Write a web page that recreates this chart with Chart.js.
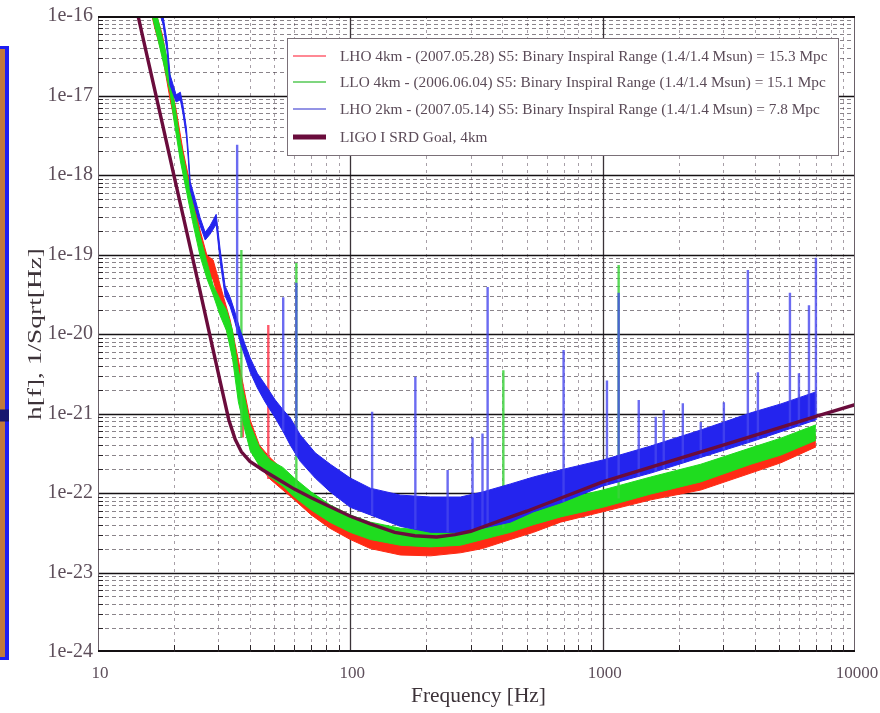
<!DOCTYPE html>
<html>
<head>
<meta charset="utf-8">
<script src="https://cdn.jsdelivr.net/npm/chart.js@4.4.1/dist/chart.umd.min.js"></script>
<style>
  html, body { margin: 0; padding: 0; background: #ffffff; }
  #wrap { width: 880px; height: 713px; position: relative; }
</style>
</head>
<body>
<div id="wrap"><canvas id="c" width="880" height="713"></canvas></div>
<script>
// ---- Strain sensitivity data: frequency (Hz) vs amplitude spectral density (1/sqrt(Hz)) ----

// LIGO I SRD design goal, 4 km
const srdFreq = [13, 15, 18, 20, 22, 25, 28, 31, 33, 35, 37, 40, 45, 50, 60, 70, 80, 100, 120, 150,
  180, 220, 260, 300, 400, 500, 700, 1000, 2000, 3000, 5000, 7000, 10000];
const srdAmp = [4.3e-16, 5.7e-17, 4.4e-18, 9.8e-19, 2.6e-19, 4.3e-20, 8.5e-21, 2.0e-21, 8.3e-22, 4.7e-22,
  3.3e-22, 2.5e-22, 1.95e-22, 1.59e-22, 1.12e-22, 8.7e-23, 7.1e-23, 5.1e-23, 4.1e-23, 3.2e-23,
  2.9e-23, 2.8e-23, 3.0e-23, 3.3e-23, 4.6e-23, 5.9e-23, 8.9e-23, 1.38e-22, 2.7e-22, 4.0e-22,
  6.6e-22, 9.2e-22, 1.29e-21];

// LHO 2km noise band (upper / lower envelope)
const lho2Freq = [17.3, 18.1, 18.8, 19.3, 20.4, 21.2, 21.7, 22.4, 22.8, 23.2, 24.3, 25.4, 26.6, 27.8, 29.4,
  30.5, 31.9, 33.4, 34.7, 36.6, 38.3, 40.1, 42.8, 46, 50.4, 54.2, 57.8, 63.3, 72.6, 83.3,
  100, 120, 158, 208, 273, 334, 431, 532, 681, 1000, 1551, 2448, 3867, 5087, 7000];
const lho2Upper = [1.6e-16, 1.0e-16, 4.7e-17, 1.82e-17, 1.02e-17, 1.1e-17, 7.6e-18, 3.9e-18, 1.95e-18, 8.2e-19,
  4.9e-19, 2.9e-19, 1.9e-19, 2.3e-19, 3.2e-19, 1.14e-19, 4.0e-20, 2.9e-20, 2.0e-20, 1.12e-20,
  7.3e-21, 5.0e-21, 3.2e-21, 2.3e-21, 1.48e-21, 1.11e-21, 8.8e-22, 5.4e-22, 3.2e-22, 2.3e-22,
  1.54e-22, 1.15e-22, 9.4e-23, 8.9e-23, 8.9e-23, 1.03e-22, 1.30e-22, 1.59e-22, 1.95e-22, 2.6e-22,
  3.9e-22, 6.2e-22, 1.02e-21, 1.32e-21, 1.87e-21];
const lho2Lower = [1.26e-16, 7.9e-17, 3.5e-17, 1.35e-17, 8.3e-18, 8.8e-18, 6.0e-18, 3.1e-18, 1.55e-18, 6.5e-19,
  3.8e-19, 2.3e-19, 1.52e-19, 1.8e-19, 2.4e-19, 8.1e-20, 3.0e-20, 2.2e-20, 1.5e-20, 7.9e-21,
  5.1e-21, 3.3e-21, 2.1e-21, 1.39e-21, 8.8e-22, 5.9e-22, 4.0e-22, 2.5e-22, 1.54e-22, 1.03e-22,
  6.6e-23, 5.3e-23, 3.8e-23, 3.2e-23, 3.2e-23, 3.6e-23, 4.3e-23, 5.8e-23, 7.5e-23, 1.22e-22,
  1.78e-22, 2.8e-22, 4.4e-22, 5.9e-22, 8.3e-22];

// LLO 4km noise band
const lloFreq = [15.8, 16.4, 17.3, 18.5, 19.3, 20.0, 21.2, 22.4, 23.7, 25.4, 27.0, 28.6, 30.5, 32.3, 34.1,
  36.0, 38.3, 40.1, 43.6, 48, 54, 60, 70, 83, 100, 120, 158, 208, 273, 334,
  431, 532, 681, 1000, 1551, 2448, 3867, 5087, 7000];
const lloUpper = [2.8e-16, 1.6e-16, 9.0e-17, 3.7e-17, 1.82e-17, 8.8e-18, 2.6e-18, 1.1e-18, 4.6e-19, 1.7e-19,
  8.1e-20, 4.1e-20, 2.7e-20, 2.0e-20, 1.12e-20, 3.5e-21, 1.48e-21, 7.2e-22, 3.8e-22, 2.6e-22,
  2.1e-22, 1.54e-22, 1.03e-22, 7.1e-23, 5.3e-23, 4.3e-23, 3.6e-23, 3.4e-23, 3.8e-23, 4.3e-23,
  5.3e-23, 6.5e-23, 8.2e-23, 1.09e-22, 1.59e-22, 2.3e-22, 3.7e-22, 4.9e-22, 7.2e-22];
const lloLower = [1.6e-16, 1.0e-16, 5.0e-17, 2.0e-17, 1.1e-17, 4.9e-18, 1.5e-18, 6.3e-19, 2.6e-19, 9.5e-20,
  5.0e-20, 3.1e-20, 1.7e-20, 1.1e-20, 5.0e-21, 1.4e-21, 6.0e-22, 3.4e-22, 2.2e-22, 1.6e-22,
  1.22e-22, 8.9e-23, 6.1e-23, 4.3e-23, 3.2e-23, 2.6e-23, 2.2e-23, 2.1e-23, 2.2e-23, 2.6e-23,
  3.2e-23, 4.0e-23, 5.0e-23, 6.6e-23, 9.7e-23, 1.38e-22, 2.3e-22, 3.0e-22, 4.6e-22];

// LHO 4km noise band
const lho4Freq = [15.8, 16.8, 18, 19.3, 20.4, 21.7, 23.2, 25.4, 27.0, 28.6, 30.5, 33.4, 36, 38.3, 40.1,
  43.6, 48, 54, 60, 70, 83, 100, 120, 158, 208, 273, 334, 431, 532, 681,
  1000, 1551, 2448, 3867, 5087, 7000];
const lho4Upper = [2.8e-16, 1.2e-16, 5.8e-17, 1.57e-17, 6.6e-18, 2.06e-18, 7.5e-19, 2.0e-19, 9.8e-20, 8.5e-20,
  4.1e-20, 1.5e-20, 4.7e-21, 1.71e-21, 8.3e-22, 4.0e-22, 2.8e-22, 1.95e-22, 1.38e-22, 8.9e-23,
  6.1e-23, 4.3e-23, 3.4e-23, 2.8e-23, 2.7e-23, 3.0e-23, 3.4e-23, 4.3e-23, 5.3e-23, 6.6e-23,
  8.6e-23, 1.26e-22, 1.83e-22, 2.8e-22, 3.7e-22, 5.4e-22];
const lho4Lower = [1.6e-16, 7.0e-17, 3.2e-17, 9.0e-18, 3.8e-18, 1.2e-18, 4.4e-19, 1.1e-19, 6.0e-20, 4.8e-20,
  2.3e-20, 7.5e-21, 2.1e-21, 7.5e-22, 3.8e-22, 2.2e-22, 1.5e-22, 1.09e-22, 8.2e-23, 5.3e-23,
  3.6e-23, 2.6e-23, 2.0e-23, 1.66e-23, 1.62e-23, 1.77e-23, 2.0e-23, 2.6e-23, 3.2e-23, 4.3e-23,
  5.8e-23, 8.2e-23, 1.09e-22, 1.78e-22, 2.4e-22, 3.8e-22];

// Narrow spectral lines: frequency, line peak, floor it rises from
const lho2LineFreq = [35.6, 54.2, 61.1, 122, 181, 243, 305, 334, 350, 700, 1040, 1157,
  1390, 1623, 1746, 2078, 2448, 3022, 3762, 4123, 5523, 5995, 6570, 7000];
const lho2LinePeak = [2.4e-18, 2.9e-20, 4.4e-20, 1.05e-21, 2.9e-21, 1.95e-22, 5.0e-22, 5.6e-22, 3.9e-20, 6.3e-21, 2.6e-21, 3.3e-20,
  1.48e-21, 9.1e-22, 1.11e-21, 1.35e-21, 7.8e-22, 1.39e-21, 6.4e-20, 3.3e-21, 3.3e-20, 3.2e-21, 2.3e-20, 9.1e-20];
const lho2LineFloor = [1.0e-20, 5.9e-22, 2.9e-22, 5.3e-23, 3.5e-23, 3.2e-23, 3.4e-23, 3.6e-23, 3.8e-23, 7.7e-23, 1.25e-22, 1.4e-22,
  1.6e-22, 1.85e-22, 2.0e-22, 2.4e-22, 2.8e-22, 3.5e-22, 4.3e-22, 4.7e-22, 6.5e-22, 7.0e-22, 7.8e-22, 8.3e-22];

const lloLineFreq = [37, 61.1, 404, 1157];
const lloLinePeak = [1.14e-19, 7.8e-20, 3.5e-21, 7.4e-20];
const lloLineFloor = [5.0e-22, 1.0e-22, 3.6e-23, 8.5e-23];

const lho4LineFreq = [37.5, 47.3];
const lho4LinePeak = [2.3e-21, 1.3e-20];
const lho4LineFloor = [5.0e-22, 1.5e-22];

// Axis ranges and labels
const freqDecades = [10, 100, 1000, 10000];
const ampExponents = [-24, -23, -22, -21, -20, -19, -18, -17, -16];
const xTitle = 'Frequency [Hz]';
const yTitle = 'h[f], 1/Sqrt[Hz]';

const legendTexts = [
  'LHO 4km - (2007.05.28) S5: Binary Inspiral Range (1.4/1.4 Msun) = 15.3 Mpc',
  'LLO 4km - (2006.06.04) S5: Binary Inspiral Range (1.4/1.4 Msun) = 15.1 Mpc',
  'LHO 2km - (2007.05.14) S5: Binary Inspiral Range (1.4/1.4 Msun) = 7.8 Mpc',
  'LIGO I SRD Goal, 4km'
];

const RED = '#ff2a14', GREEN = '#1fdc1f', BLUE = '#2424ee', SRD = '#6a0c3c';
const SERIF = '"Liberation Serif", "Times New Roman", "DejaVu Serif", serif';
const TEXT = '#5e4f5b';

const pts = (fs, vs) => fs.map((f, i) => ({ x: f, y: vs[i] }));
const linePts = (fs, lo, hi) => {
  const out = [];
  fs.forEach((f, i) => { out.push({ x: f, y: lo[i] }, { x: f, y: hi[i] }, { x: f, y: null }); });
  return out;
};

const bandLine = { pointRadius: 0, borderWidth: 1, tension: 0, spanGaps: false };

const datasets = [
  { label: legendTexts[3], legendRow: 3, legendWidth: 5, data: pts(srdFreq, srdAmp),
    borderColor: SRD, borderWidth: 3.4, pointRadius: 0, fill: false, order: 0 },

  { label: 'lho2-lines', data: linePts(lho2LineFreq, lho2LineFloor, lho2LinePeak),
    borderColor: 'rgba(70,70,238,0.8)', borderWidth: 2.4, pointRadius: 0, fill: false, order: 1 },
  { label: legendTexts[2], legendRow: 2, legendColor: '#7070dd', data: pts(lho2Freq, lho2Upper),
    borderColor: BLUE, backgroundColor: BLUE, fill: '+1', order: 2, ...bandLine },
  { label: 'lho2-lower', data: pts(lho2Freq, lho2Lower), borderColor: BLUE, fill: false, order: 2, ...bandLine },

  { label: 'llo-lines', data: linePts(lloLineFreq, lloLineFloor, lloLinePeak),
    borderColor: 'rgba(60,210,60,0.85)', borderWidth: 2.4, pointRadius: 0, fill: false, order: 3 },
  { label: legendTexts[1], legendRow: 1, legendColor: '#55c855', data: pts(lloFreq, lloUpper),
    borderColor: GREEN, backgroundColor: GREEN, fill: '+1', order: 4, ...bandLine },
  { label: 'llo-lower', data: pts(lloFreq, lloLower), borderColor: GREEN, fill: false, order: 4, ...bandLine },

  { label: 'lho4-lines', data: linePts(lho4LineFreq, lho4LineFloor, lho4LinePeak),
    borderColor: 'rgba(255,60,80,0.85)', borderWidth: 2.4, pointRadius: 0, fill: false, order: 5 },
  { label: legendTexts[0], legendRow: 0, legendColor: '#ff6070', data: pts(lho4Freq, lho4Upper),
    borderColor: RED, backgroundColor: RED, fill: '+1', order: 6, ...bandLine },
  { label: 'lho4-lower', data: pts(lho4Freq, lho4Lower), borderColor: RED, fill: false, order: 6, ...bandLine }
];

const isDecade = (v) => { const e = Math.log10(v); return Math.abs(e - Math.round(e)) < 1e-6; };

// White page, side strip at the left edge
const pagePlugin = {
  id: 'page',
  beforeDraw(chart) {
    const { ctx, chartArea: a, scales: { y } } = chart;
    ctx.save();
    ctx.fillStyle = '#ffffff';
    ctx.fillRect(0, 0, chart.width, chart.height);
    const top = a.top + 30, bottom = a.bottom + 8;
    ctx.fillStyle = '#c27a3c';
    ctx.fillRect(0, top, 5, bottom - top);
    ctx.fillStyle = '#1e1ef2';
    ctx.fillRect(5, top, 4, bottom - top);
    ctx.fillRect(0, top, 9, 3);
    ctx.fillRect(0, bottom - 3, 9, 3);
    ctx.fillStyle = '#17176e';
    ctx.fillRect(0, y.getPixelForValue(1e-21) - 4, 9, 12);
    ctx.restore();
  }
};

// Log-paper grid: dashed minors, solid decades
const gridPlugin = {
  id: 'logPaper',
  beforeDatasetsDraw(chart) {
    const { ctx, chartArea: a, scales: { x, y } } = chart;
    ctx.save();
    ctx.lineWidth = 1;
    ctx.strokeStyle = 'rgba(95,80,95,0.55)';
    ctx.setLineDash([3, 4]);
    for (let d = 0; d < freqDecades.length - 1; d++) {
      for (let m = 2; m <= 9; m++) {
        const px = Math.round(x.getPixelForValue(m * freqDecades[d])) + 0.5;
        ctx.beginPath(); ctx.moveTo(px, a.top); ctx.lineTo(px, a.bottom); ctx.stroke();
      }
    }
    ctx.strokeStyle = 'rgba(60,50,60,0.6)';
    ctx.setLineDash([4, 3]);
    for (let i = 0; i < ampExponents.length - 1; i++) {
      for (let m = 2; m <= 9; m++) {
        const py = Math.round(y.getPixelForValue(m * Math.pow(10, ampExponents[i]))) + 0.5;
        ctx.beginPath(); ctx.moveTo(a.left, py); ctx.lineTo(a.right, py); ctx.stroke();
      }
    }
    ctx.setLineDash([]);
    ctx.strokeStyle = '#3a3338';
    ctx.lineWidth = 1.3;
    freqDecades.slice(1, -1).forEach(v => {
      const px = Math.round(x.getPixelForValue(v)) + 0.5;
      ctx.beginPath(); ctx.moveTo(px, a.top); ctx.lineTo(px, a.bottom); ctx.stroke();
    });
    ctx.strokeStyle = '#161214';
    ctx.lineWidth = 1.6;
    ampExponents.slice(1, -1).forEach(e => {
      const py = Math.round(y.getPixelForValue(Math.pow(10, e))) + 0.5;
      ctx.beginPath(); ctx.moveTo(a.left, py); ctx.lineTo(a.right, py); ctx.stroke();
    });
    ctx.restore();
  },
  afterDatasetsDraw(chart) {
    const { ctx, chartArea: a, scales: { x, y } } = chart;
    ctx.save();
    ctx.strokeStyle = '#6a6068';
    ctx.lineWidth = 1;
    ctx.beginPath();
    ctx.moveTo(a.left + 0.5, a.top); ctx.lineTo(a.left + 0.5, a.bottom);
    ctx.moveTo(a.right - 0.5, a.top); ctx.lineTo(a.right - 0.5, a.bottom);
    ctx.stroke();
    ctx.strokeStyle = '#141012';
    ctx.lineWidth = 2.2;
    ctx.beginPath();
    ctx.moveTo(a.left, a.top + 1); ctx.lineTo(a.right, a.top + 1);
    ctx.moveTo(a.left, a.bottom - 1); ctx.lineTo(a.right, a.bottom - 1);
    ctx.stroke();
    ctx.lineWidth = 1;
    ctx.strokeStyle = '#2a2428';
    for (let d = 0; d < freqDecades.length - 1; d++) {
      for (let m = 2; m <= 9; m++) {
        const px = Math.round(x.getPixelForValue(m * freqDecades[d])) + 0.5;
        ctx.beginPath(); ctx.moveTo(px, a.bottom); ctx.lineTo(px, a.bottom - 7); ctx.stroke();
      }
    }
    for (let i = 0; i < ampExponents.length - 1; i++) {
      for (let m = 2; m <= 9; m++) {
        const py = Math.round(y.getPixelForValue(m * Math.pow(10, ampExponents[i]))) + 0.5;
        ctx.beginPath(); ctx.moveTo(a.left, py); ctx.lineTo(a.left + 5, py); ctx.stroke();
      }
    }
    ctx.restore();
  }
};

// Frequency tick labels and the two axis titles
const axisTextPlugin = {
  id: 'axisText',
  afterDraw(chart) {
    const { ctx, chartArea: a, scales: { x } } = chart;
    ctx.save();
    ctx.fillStyle = TEXT;
    ctx.font = '17px ' + SERIF;
    ctx.textAlign = 'center';
    ctx.textBaseline = 'middle';
    freqDecades.forEach(v => ctx.fillText(String(v), x.getPixelForValue(v) + 2, a.bottom + 22));

    ctx.fillStyle = '#3d3339';
    ctx.font = '20px ' + SERIF;
    const wx = ctx.measureText(xTitle).width;
    ctx.save();
    ctx.translate((a.left + a.right) / 2 + 2, a.bottom + 45);
    ctx.scale(135 / wx, 1);
    ctx.fillText(xTitle, 0, 0);
    ctx.restore();

    ctx.font = '19px ' + SERIF;
    const wy = ctx.measureText(yTitle).width;
    ctx.save();
    ctx.translate(36, (a.top + a.bottom) / 2);
    ctx.rotate(-Math.PI / 2);
    ctx.scale(172 / wy, 1);
    ctx.fillText(yTitle, 0, 0);
    ctx.restore();
    ctx.restore();
  }
};

// Boxed legend in the upper right of the plot
const legendPlugin = {
  id: 'boxLegend',
  afterDatasetsDraw(chart) {
    const { ctx, chartArea: a } = chart;
    const bx = a.left + 189, by = a.top + 22, bw = a.right - 17 - bx, bh = 117;
    ctx.save();
    ctx.fillStyle = '#ffffff';
    ctx.fillRect(bx, by, bw, bh);
    ctx.strokeStyle = '#7a7078';
    ctx.lineWidth = 1;
    ctx.strokeRect(bx + 0.5, by + 0.5, bw, bh);
    const rows = chart.data.datasets.filter(d => d.legendRow !== undefined)
      .sort((p, q) => p.legendRow - q.legendRow);
    ctx.font = '14px ' + SERIF;
    const w0 = ctx.measureText(legendTexts[0]).width;
    const size = Math.min(16, Math.max(11, 14 * 488 / w0));
    ctx.font = size.toFixed(2) + 'px ' + SERIF;
    ctx.textBaseline = 'middle';
    ctx.fillStyle = '#5b4b58';
    const rowY = [18, 44, 71, 99];
    rows.forEach((d, i) => {
      const yy = by + rowY[i];
      ctx.strokeStyle = d.legendColor || d.borderColor;
      ctx.lineWidth = d.legendWidth || 1.4;
      ctx.beginPath(); ctx.moveTo(bx + 6, yy); ctx.lineTo(bx + 39, yy); ctx.stroke();
      ctx.fillText(d.label, bx + 53, yy + 1);
    });
    ctx.restore();
  }
};

new Chart(document.getElementById('c'), {
  type: 'line',
  data: { datasets },
  options: {
    responsive: false,
    animation: false,
    devicePixelRatio: 1,
    layout: { padding: { left: 0, top: 16, right: 25, bottom: 0 } },
    plugins: { legend: { display: false }, tooltip: { enabled: false } },
    scales: {
      x: {
        type: 'logarithmic', min: 10, max: 10000,
        grid: { display: false, drawTicks: false, tickLength: 0 }, border: { display: false },
        ticks: { display: false },
        afterFit: (s) => { s.height = 61; s.paddingLeft = 0; s.paddingRight = 0; }
      },
      y: {
        type: 'logarithmic', min: 1e-24, max: 1e-16,
        grid: { display: false, drawTicks: false, tickLength: 0 }, border: { display: false },
        ticks: {
          autoSkip: false, padding: 5, color: TEXT,
          font: { family: SERIF, size: 20 },
          callback: (v) => isDecade(v) ? '1e' + Math.round(Math.log10(v)) : ''
        },
        afterFit: (s) => { s.width = 98; s.paddingTop = 0; s.paddingBottom = 0; }
      }
    }
  },
  plugins: [pagePlugin, gridPlugin, legendPlugin, axisTextPlugin]
});
</script>
</body>
</html>
